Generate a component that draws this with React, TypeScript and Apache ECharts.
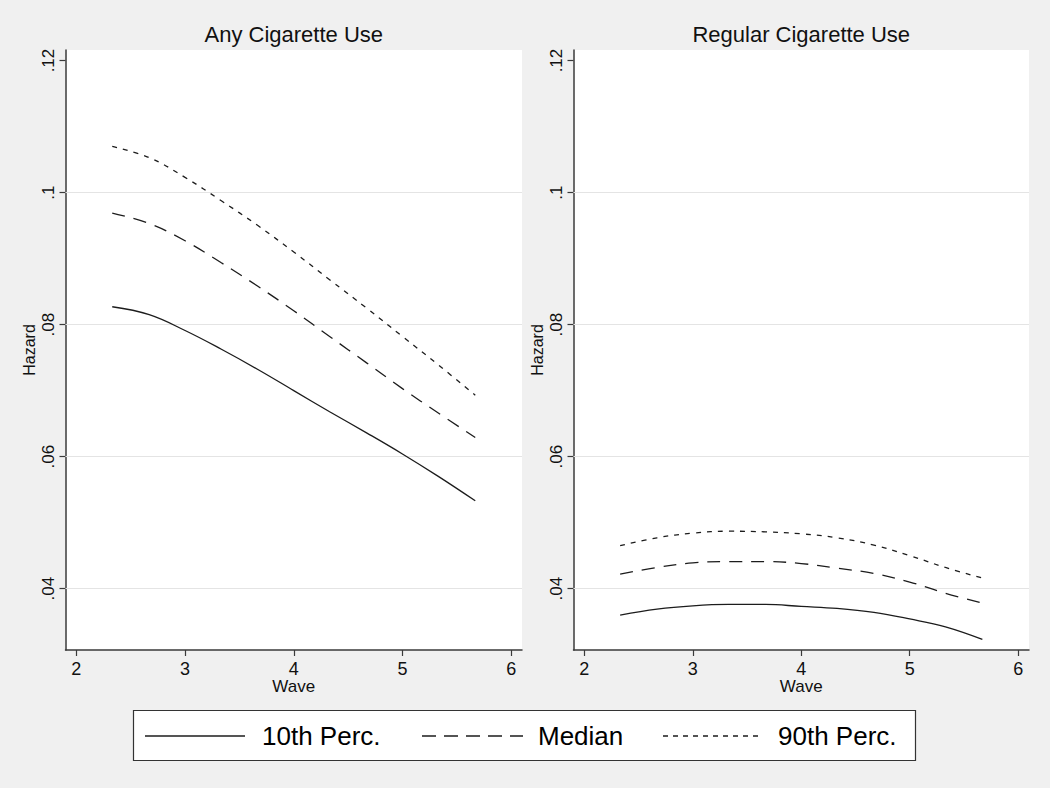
import React, { useEffect, useRef } from "react";
import * as echarts from "echarts";

const waves = [2.33, 2.67, 3, 3.33, 3.67, 4, 4.33, 4.67, 5, 5.33, 5.67];

const anyP10 = [0.0827, 0.0815, 0.0791, 0.0763, 0.0732, 0.07, 0.0668, 0.0636, 0.0604, 0.057, 0.0533];
const anyMedian = [0.0969, 0.0953, 0.0927, 0.0894, 0.0858, 0.0821, 0.0782, 0.0742, 0.0703, 0.0666, 0.0629];
const anyP90 = [0.107, 0.1053, 0.1023, 0.0988, 0.095, 0.091, 0.0868, 0.0825, 0.0782, 0.0739, 0.0693];

const regP10 = [0.036, 0.0369, 0.0374, 0.0376, 0.0376, 0.0373, 0.037, 0.0364, 0.0354, 0.0342, 0.0323];
const regMedian = [0.0422, 0.0432, 0.0439, 0.0441, 0.0441, 0.0438, 0.0431, 0.0423, 0.041, 0.0393, 0.0378];
const regP90 = [0.0465, 0.0477, 0.0484, 0.0487, 0.0486, 0.0483, 0.0477, 0.0466, 0.045, 0.0432, 0.0416];

const panelTitles = ["Any Cigarette Use", "Regular Cigarette Use"];
const seriesNames = ["10th Perc.", "Median", "90th Perc."];
const xTicks = [2, 3, 4, 5, 6];
const yTicks = [0.04, 0.06, 0.08, 0.1, 0.12];
const yTickLabels = [".04", ".06", ".08", ".1", ".12"];
const gridValues = [0.04, 0.06, 0.08, 0.1];
const xAxisName = "Wave";
const yAxisName = "Hazard";

const FONT = "Liberation Sans, Arial, sans-serif";
const AXIS_COLOR = "#3a3a3a";
const LINE_COLOR = "#1c1c1c";
const dashStyles: any[] = ["solid", [13, 9], [5, 6]];
const legendDash: any[] = ["solid", [14, 8], [5, 5]];

export default function App() {
  const ref = useRef<HTMLDivElement>(null);

  useEffect(() => {
    if (!ref.current) return;
    const chart = echarts.init(ref.current, null, { renderer: "svg" });

    const panels = [
      [anyP10, anyMedian, anyP90],
      [regP10, regMedian, regP90],
    ];
    const grids = [
      { left: 65.5, top: 50, width: 456.5, height: 600 },
      { left: 573.5, top: 50, width: 455.5, height: 600 },
    ];

    const xAxes = grids.map((_, i) => ({
      type: "value",
      gridIndex: i,
      min: 1.9,
      max: 6.1,
      name: xAxisName,
      nameLocation: "middle",
      nameGap: 28,
      nameMoveOverlap: false,
      nameTextStyle: { fontSize: 17, color: "#111", fontFamily: FONT },
      axisLine: { show: true, onZero: false, lineStyle: { color: AXIS_COLOR, width: 1.5 } },
      axisTick: { show: true, length: 6, customValues: xTicks, lineStyle: { color: AXIS_COLOR, width: 1.2 } },
      axisLabel: { customValues: xTicks, fontSize: 18, color: "#111", margin: 10, fontFamily: FONT },
      splitLine: { show: false },
    }));

    const yAxes = grids.map((_, i) => ({
      type: "value",
      gridIndex: i,
      min: 0.0307,
      max: 0.1216,
      name: yAxisName,
      nameLocation: "middle",
      nameRotate: 90,
      nameGap: 28,
      nameTextStyle: { fontSize: 16, color: "#111", fontFamily: FONT },
      axisLine: { show: true, onZero: false, lineStyle: { color: AXIS_COLOR, width: 1.5 } },
      axisTick: { show: true, length: 6, customValues: yTicks, lineStyle: { color: AXIS_COLOR, width: 1.2 } },
      axisLabel: {
        customValues: yTicks,
        rotate: 90,
        fontSize: 17,
        color: "#111",
        margin: 9,
        fontFamily: FONT,
        formatter: (v: number) => {
          const idx = yTicks.findIndex((t) => Math.abs(t - v) < 1e-9);
          return idx >= 0 ? yTickLabels[idx] : "";
        },
      },
      splitLine: { show: false },
    }));

    const series: any[] = [];
    panels.forEach((vals, p) => {
      vals.forEach((arr, s) => {
        const item: any = {
          type: "line",
          name: seriesNames[s],
          xAxisIndex: p,
          yAxisIndex: p,
          data: waves.map((w, k) => [w, arr[k]]),
          symbol: "none",
          showSymbol: false,
          smooth: 0.4,
          lineStyle: { color: LINE_COLOR, width: 1.3, type: dashStyles[s] },
          z: 3,
        };
        if (s === 0) {
          item.markLine = {
            silent: true,
            symbol: "none",
            label: { show: false },
            lineStyle: { color: "#e4e4e4", width: 1, type: "solid" },
            data: gridValues.map((g) => ({ yAxis: g })),
            z: 1,
          };
        }
        series.push(item);
      });
    });

    const legendY = 736;
    const legendItems = [
      { x1: 145, x2: 245, tx: 262 },
      { x1: 422, x2: 523, tx: 538 },
      { x1: 663, x2: 760, tx: 778 },
    ];

    const graphic: any[] = [
      {
        type: "text",
        x: 293.75,
        y: 34,
        style: { text: panelTitles[0], fill: "#111", font: `22px ${FONT}`, textAlign: "center", textVerticalAlign: "middle" },
      },
      {
        type: "text",
        x: 801.25,
        y: 34,
        style: { text: panelTitles[1], fill: "#111", font: `22px ${FONT}`, textAlign: "center", textVerticalAlign: "middle" },
      },
      {
        type: "rect",
        shape: { x: 133.5, y: 710.5, width: 782, height: 50 },
        style: { fill: "#fff", stroke: "#333", lineWidth: 1.2 },
      },
    ];
    legendItems.forEach((li, i) => {
      graphic.push({
        type: "line",
        shape: { x1: li.x1, y1: legendY, x2: li.x2, y2: legendY },
        style: { stroke: LINE_COLOR, lineWidth: 1.5, lineDash: legendDash[i] === "solid" ? null : legendDash[i] },
      });
      graphic.push({
        type: "text",
        x: li.tx,
        y: legendY,
        style: { text: seriesNames[i], font: `26px ${FONT}`, fill: "#000", textAlign: "left", textVerticalAlign: "middle" },
      });
    });

    chart.setOption({
      animation: false,
      backgroundColor: "#f0f0f0",
      textStyle: { fontFamily: FONT },
      grid: grids.map((g) => ({ ...g, show: true, backgroundColor: "#ffffff", borderWidth: 0 })),
      xAxis: xAxes,
      yAxis: yAxes,
      series,
      graphic,
    });

    return () => chart.dispose();
  }, []);

  return (
    <div
      ref={ref}
      style={{ position: "fixed", left: 0, top: 0, width: 1050, height: 788 }}
    />
  );
}
